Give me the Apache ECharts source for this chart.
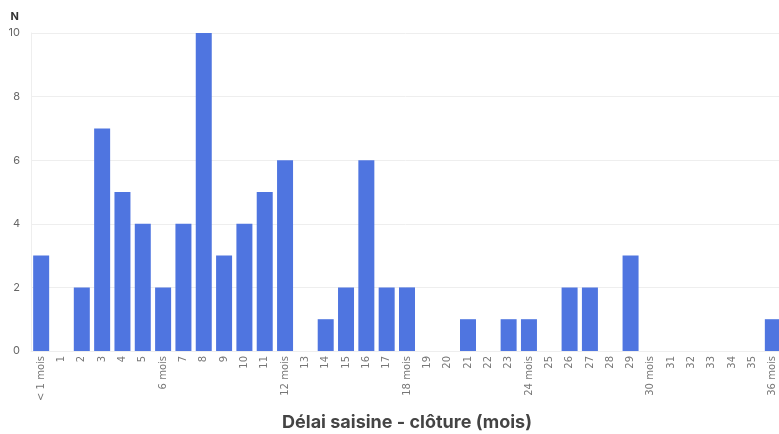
<!DOCTYPE html>
<html><head><meta charset="utf-8">
<script src="https://cdn.jsdelivr.net/npm/echarts@6/dist/echarts.min.js"></script>
<style>html,body{margin:0;padding:0;background:#fff}#c{width:779px;height:434px}</style>
</head><body><div id="c"></div>
<script>
const categories = ["< 1 mois","1","2","3","4","5","6 mois","7","8","9","10","11","12 mois","13","14","15","16","17","18 mois","19","20","21","22","23","24 mois","25","26","27","28","29","30 mois","31","32","33","34","35","36 mois"];
const counts = [3,0,2,7,5,4,2,4,10,3,4,5,6,0,1,2,6,2,2,0,0,1,0,1,1,0,2,2,0,3,0,0,0,0,0,0,1];
const yTicks = [0,2,4,6,8,10];
const xTitle = "Délai saisine - clôture (mois)";
const yTitle = "N";

const chart = echarts.init(document.getElementById('c'));
chart.setOption({
  animation:false,
  grid:{left:31,width:752,top:33,bottom:83,containLabel:false,outerBoundsMode:'none'},
  xAxis:{
    type:'category', data:categories,
    axisLine:{show:true,lineStyle:{color:'#eeeeee'}},
    axisTick:{show:false},
    axisLabel:{interval:0,rotate:90,fontSize:10,color:'#777',fontFamily:'DejaVu Sans',margin:5},
    name:xTitle, nameLocation:'middle', nameGap:63,
    nameTextStyle:{fontSize:18,fontWeight:'bold',color:'#444',fontFamily:'Inter'}
  },
  yAxis:{
    type:'value', min:yTicks[0], max:yTicks[yTicks.length-1], interval:2,
    name:yTitle, nameLocation:'end', nameGap:11,
    nameTextStyle:{fontSize:11,fontWeight:'bold',color:'#333',fontFamily:'Inter',align:'right',padding:[0,12,0,0]},
    axisLine:{show:true,lineStyle:{color:'#eeeeee'}},
    axisTick:{show:false},
    axisLabel:{fontSize:11,color:'#666',fontFamily:'Inter',margin:11},
    splitLine:{lineStyle:{color:'#eeeeee'}}
  },
  series:[{type:'bar',data:counts,barWidth:16,itemStyle:{color:'#4f75e0'}}]
});
</script></body></html>
